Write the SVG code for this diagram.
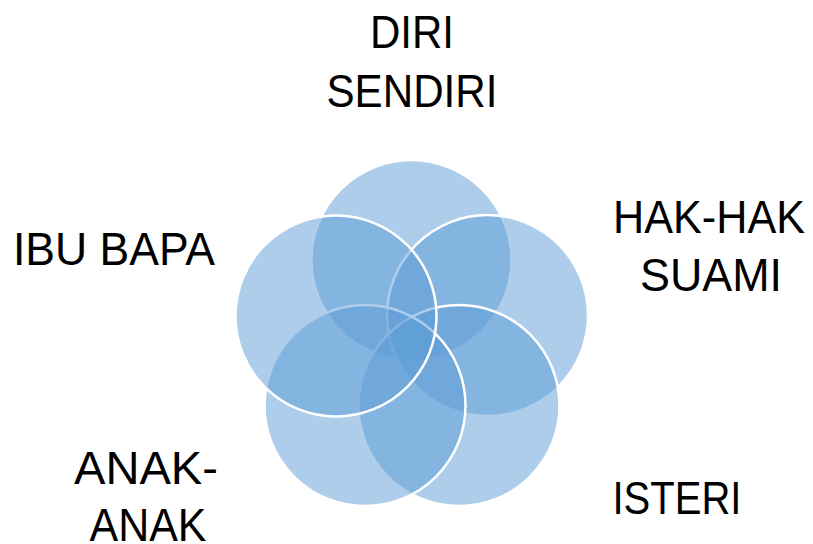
<svg xmlns="http://www.w3.org/2000/svg" width="813" height="544" viewBox="0 0 813 544">
<style>
.c{fill:#5B9BD5;fill-opacity:0.5;stroke:#FFFFFF;stroke-width:2.5}
.t{font-family:"Liberation Sans",Arial,sans-serif;font-size:46px;fill:#000000;text-anchor:middle}
</style>
<rect width="813" height="544" fill="#FFFFFF"/>
<g id="node-diri-sendiri">
<circle class="c" cx="411.5" cy="260" r="100"/>
<text class="t" x="412" y="48" textLength="84" lengthAdjust="spacingAndGlyphs">DIRI</text>
<text class="t" x="412" y="107" textLength="171" lengthAdjust="spacingAndGlyphs">SENDIRI</text>
</g>
<g id="node-hak-hak-suami">
<circle class="c" cx="487.5" cy="315.5" r="100.5"/>
<text class="t" x="709" y="233" textLength="192" lengthAdjust="spacingAndGlyphs">HAK-HAK</text>
<text class="t" x="711" y="291" textLength="142" lengthAdjust="spacingAndGlyphs">SUAMI</text>
</g>
<g id="node-isteri">
<circle class="c" cx="459" cy="405.5" r="100.5"/>
<text class="t" x="677" y="514" textLength="129" lengthAdjust="spacingAndGlyphs">ISTERI</text>
</g>
<g id="node-anak-anak">
<circle class="c" cx="365" cy="405.5" r="100.5"/>
<text class="t" x="146" y="484" textLength="144" lengthAdjust="spacingAndGlyphs">ANAK-</text>
<text class="t" x="148" y="541" textLength="117" lengthAdjust="spacingAndGlyphs">ANAK</text>
</g>
<g id="node-ibu-bapa">
<circle class="c" cx="336" cy="316" r="100.5"/>
<text class="t" x="114" y="265" textLength="202" lengthAdjust="spacingAndGlyphs">IBU BAPA</text>
</g>
<g id="connectors"></g>
</svg>
